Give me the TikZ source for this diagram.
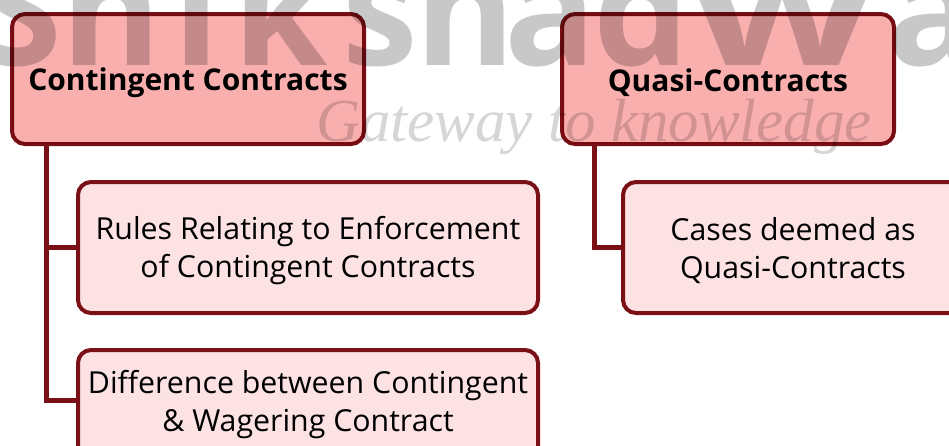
\documentclass[tikz,border=0pt]{standalone}
\usepackage{graphicx}
\usepackage{fontspec}
\setmainfont{Open Sans}
\newfontfamily\wmfont{Open Sans}
\newfontfamily\handfont{Liberation Serif}
\definecolor{edgered}{HTML}{7A0F16}
\definecolor{headfill}{HTML}{FAAFAF}
\definecolor{subfill}{HTML}{FCE2E3}
\definecolor{wmgray}{HTML}{C8C8C8}
\newcommand{\topgap}{\rule{0pt}{30pt}}
\newcommand{\lowgap}{\rule[-12pt]{0pt}{12pt}}
\tikzset{
  x=1pt,y=-1pt,
  headbox/.style={draw=edgered,line width=4pt,fill=headfill,rounded corners=13pt,blend mode=multiply,anchor=north west,align=center,inner sep=0pt},
  subbox/.style={draw=edgered,line width=4pt,fill=subfill,rounded corners=13pt,anchor=north west,align=center,inner sep=0pt,font=\fontsize{30.3}{38}\selectfont},
  link/.style={draw=edgered,line width=5pt,line cap=butt},
  headtext/.style={font=\fontsize{30}{36}\selectfont\bfseries,text=black,inner sep=0pt},
  wmtext/.style={text=wmgray,inner sep=0pt,anchor=base west}
}
\begin{document}
\begin{tikzpicture}
\useasboundingbox (0,0) rectangle (949,445);
\clip (0,0) rectangle (949,445);
\fill[white] (0,0) rectangle (949,445);
\node[wmtext,font=\wmfont\fontsize{152}{152}\selectfont\bfseries] (wm) at (-22,65) {Sh\kern12pt i\kern13pt k\kern15pt s\kern-3pt h\kern-10pt a\kern-3pt d\kern1pt\scalebox{1.42}[1]{w}\kern12pt a};
\node[wmtext,text=black!16,font=\handfont\fontsize{61}{61}\selectfont\itshape] (wm2) at (316,141) {Gateway to knowledge};
\coordinate (t1) at (46,146);
\coordinate (t2) at (594,146);
\node[subbox,minimum width=460pt,minimum height=131pt] (c1) at (76,180) {\topgap Rules Relating to Enforcement\\of Contingent Contracts};
\node[subbox,minimum width=460pt,minimum height=114pt] (c2) at (76,348) {Difference between Contingent\\\& Wagering Contract\lowgap};
\node[subbox,minimum width=340pt,minimum height=131pt] (c3) at (621,180) {\topgap Cases deemed as\\Quasi-Contracts};
\node[headbox,minimum width=352pt,minimum height=130pt] (h1) at (10,12) {};
\node[headbox,minimum width=332pt,minimum height=130pt] (h2) at (560,12) {};
\node[headtext] (h1t) at (188,82.5) {Contingent Contracts};
\node[headtext] (h2t) at (728,82.5) {Quasi-Contracts};
\coordinate (j1) at (t1 |- c1.west);
\coordinate (j2) at (t1 |- 0,400);
\coordinate (e2) at (c2.west |- 0,400);
\draw[link] (h1.south -| t1) -- (j2) -- (e2);
\draw[link] (j1) -- (c1.west);
\draw[link] (h2.south -| t2) -- (t2 |- c3.west) -- (c3.west);
\end{tikzpicture}
\end{document}
